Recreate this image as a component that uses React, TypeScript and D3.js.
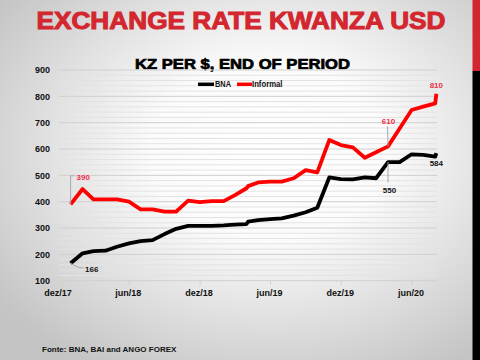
import React from "react";
import * as d3 from "d3";

const dates = ["2017-12-31","2018-01-31","2018-02-28","2018-03-31","2018-04-30","2018-05-31","2018-06-30","2018-07-31","2018-08-31","2018-09-30","2018-10-31","2018-11-30","2018-12-31","2019-01-31","2019-02-28","2019-03-31","2019-04-04","2019-04-30","2019-05-31","2019-06-30","2019-07-31","2019-08-31","2019-09-30","2019-10-31","2019-11-30","2019-12-31","2020-01-31","2020-02-29","2020-03-31","2020-04-30","2020-05-31","2020-06-30","2020-07-31","2020-08-03"];
const bna = [166,204,212,214,229,242,250,254,277,297,308,308,308,310,313,315,324,330,334,337,347,360,377,492,486,485,492,489,550,550,580,578,571,584];
const informal = [390,448,409,409,409,400,371,371,362,362,404,398,402,402,424,451,459,473,476,476,489,520,511,634,615,606,567,588,610,678,748,761,773,810];
const xTicks = ["2017-12-01","2018-06-01","2018-12-01","2019-06-01","2019-12-01","2020-06-01"];
const xTickLabels = ["dez/17","jun/18","dez/18","jun/19","dez/19","jun/20"];
const yTicks = [100,200,300,400,500,600,700,800,900];
const minorTicks = d3.range(100, 901, 20);

const parse = d3.timeParse("%Y-%m-%d");

export default function App() {
  const W = 480, H = 360;
  const x = d3.scaleTime().domain([parse("2017-12-01")!, parse("2020-06-01")!]).range([59, 412]);
  const y = d3.scaleLinear().domain([100, 900]).range([280.7, 70]);
  const pts = dates.map((d) => parse(d)!);
  const plotL = 59, plotR = 437;
  const line = d3.line<number>().x((_, i) => x(pts[i])).y((v) => y(v));
  const n = dates.length;
  const font = "Liberation Sans, Arial, sans-serif";

  const p0 = { x: x(pts[0]), bna: y(bna[0]), inf: y(informal[0]) };
  const iMar = dates.indexOf("2020-03-31");
  const pm = { x: x(pts[iMar]), bna: y(bna[iMar]), inf: y(informal[iMar]) };
  const pl = { x: x(pts[n - 1]), bna: y(bna[n - 1]), inf: y(informal[n - 1]) };

  return (
    <svg width={W} height={H} style={{ position: "absolute", left: 0, top: 0 }} fontFamily={font}>
      <defs>
        <radialGradient id="bg" cx="0.56" cy="0.42" r="0.7">
          <stop offset="0" stopColor="#ffffff" />
          <stop offset="0.35" stopColor="#fbfbfb" />
          <stop offset="1" stopColor="#c4c4c4" />
        </radialGradient>
      </defs>
      <rect x={0} y={0} width={W} height={H} fill="url(#bg)" />
      <rect x={472.5} y={0} width={7.5} height={71} fill="#d3262e" />
      <rect x={472.5} y={71} width={7.5} height={289} fill="#000" />

      <text x={241} y={29} textAnchor="middle" fontSize={24} fontWeight="bold" fill="#d3262e" stroke="#d3262e" strokeWidth={1}
        textLength={409} lengthAdjust="spacingAndGlyphs">EXCHANGE RATE KWANZA USD</text>
      <text x={242.5} y={68.5} textAnchor="middle" fontSize={14.5} fontWeight="bold" fill="#000" stroke="#000" strokeWidth={0.7}
        textLength={215} lengthAdjust="spacingAndGlyphs">KZ PER $, END OF PERIOD</text>

      {minorTicks.filter((v) => v % 100 !== 0).map((v) => (
        <line key={"m" + v} x1={plotL} x2={plotR} y1={y(v)} y2={y(v)} stroke="#e3e3e3" strokeWidth={1} />
      ))}
      {yTicks.map((v) => (
        <line key={"g" + v} x1={plotL} x2={plotR} y1={y(v)} y2={y(v)} stroke="#cfcfcf" strokeWidth={1} />
      ))}
      {yTicks.map((v) => (
        <text key={"yl" + v} x={50} y={y(v) + 3.2} textAnchor="end" fontSize={9} fontWeight="bold" fill="#111">{v}</text>
      ))}
      {xTicks.map((d, i) => {
        const xx = x(parse(d)!);
        return (
          <g key={"xt" + d}>
            <line x1={xx} x2={xx} y1={280.7} y2={285} stroke="#d0d0d0" strokeWidth={1} />
            <text x={xx - 1} y={295.5} textAnchor="middle" fontSize={9} fontWeight="bold" fill="#111">{xTickLabels[i]}</text>
          </g>
        );
      })}

      {/* legend */}
      <line x1={198} x2={214} y1={84.3} y2={84.3} stroke="#000" strokeWidth={3.5} />
      <text x={215} y={87.3} fontSize={8.5} fontWeight="bold" fill="#111" textLength={16} lengthAdjust="spacingAndGlyphs">BNA</text>
      <line x1={237} x2={252} y1={84.3} y2={84.3} stroke="#ff0000" strokeWidth={3.5} />
      <text x={252} y={87.3} fontSize={8.5} fontWeight="bold" fill="#111" textLength={30.5} lengthAdjust="spacingAndGlyphs">Informal</text>

      <path d={line(informal)!} fill="none" stroke="#ff0000" strokeWidth={3.8} strokeLinejoin="round" />
      <path d={line(bna)!} fill="none" stroke="#000" strokeWidth={3.8} strokeLinejoin="round" />

      {/* data labels */}
      <polyline points={`${p0.x},${p0.inf} ${p0.x},${p0.inf - 28.5} ${p0.x + 3.5},${p0.inf - 28.5}`} fill="none" stroke="#a8a8a8" strokeWidth={1} />
      <text x={76.5} y={179.5} fontSize={8} fontWeight="bold" fill="#f0304a">{informal[0]}</text>
      <polyline points={`${p0.x},${p0.bna} ${p0.x + 9},${p0.bna + 4.5} ${p0.x + 13},${p0.bna + 4.5}`} fill="none" stroke="#a8a8a8" strokeWidth={1} />
      <text x={85} y={271.5} fontSize={8} fontWeight="bold" fill="#111">{bna[0]}</text>

      <line x1={pm.x - 0.5} x2={pm.x} y1={126.5} y2={pm.inf} stroke="#a8a8a8" strokeWidth={1} />
      <text x={388.5} y={124} textAnchor="middle" fontSize={8} fontWeight="bold" fill="#f0304a">{informal[iMar]}</text>
      <line x1={pm.x} x2={pm.x} y1={pm.bna} y2={182.5} stroke="#a8a8a8" strokeWidth={1} />
      <text x={389.5} y={193} textAnchor="middle" fontSize={8} fontWeight="bold" fill="#111">{bna[iMar]}</text>

      <text x={pl.x} y={88} textAnchor="middle" fontSize={8} fontWeight="bold" fill="#f0304a">{informal[n - 1]}</text>
      <text x={pl.x} y={166.3} textAnchor="middle" fontSize={8} fontWeight="bold" fill="#111">{bna[n - 1]}</text>

      <text x={42} y={352} fontSize={8} fontWeight="bold" fill="#111">Fonte: BNA, BAI and ANGO FOREX</text>
    </svg>
  );
}
